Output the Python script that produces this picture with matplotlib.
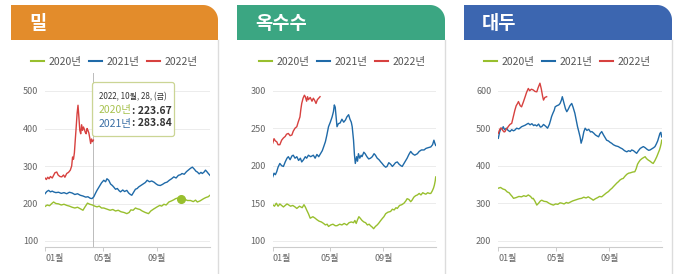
import matplotlib
matplotlib.use("Agg")
import matplotlib.pyplot as plt
import numpy as np
from matplotlib.patches import Polygon, FancyBboxPatch
from matplotlib.lines import Line2D
from matplotlib.legend import Legend

plt.rcParams['font.family'] = ['Noto Sans CJK KR', 'DejaVu Sans']

# ---------------- data (day of year, value) ----------------
titles = ["밀", "옥수수", "대두"]
years = ["2020년", "2021년", "2022년"]
month_labels = ["01월", "05월", "09월"]
month_days = [0, 128, 248]

wheat_2020_day = [0, 5, 10, 15, 19, 24, 30, 36, 42, 48, 54, 60, 66, 72, 78, 84, 88, 94, 99, 105, 110, 115, 120, 125, 130, 137, 144, 150, 156, 162, 168, 175, 181, 186, 190, 195, 200, 204, 210, 215, 222, 229, 234, 240, 244, 248, 254, 258, 263, 268, 274, 280, 285, 289, 295, 301, 308, 315, 322, 328, 333, 337, 343, 347, 351, 356, 361, 365]
wheat_2020_val = [192, 196, 194, 200, 204, 200, 199, 196, 198, 195, 193, 190, 188, 190, 186, 182, 190, 201, 198, 196, 193, 191, 193, 188, 188, 185, 182, 184, 180, 182, 178, 176, 173, 176, 183, 182, 188, 186, 184, 180, 176, 173, 180, 185, 188, 191, 195, 193, 198, 196, 204, 207, 210, 213, 215, 211, 212, 208, 208, 205, 209, 204, 207, 210, 213, 216, 218, 222]
wheat_2021_day = [0, 4, 8, 12, 16, 19, 24, 30, 36, 42, 48, 54, 60, 66, 72, 78, 84, 90, 95, 100, 104, 108, 112, 115, 120, 125, 130, 134, 137, 141, 145, 149, 152, 156, 160, 164, 167, 172, 176, 181, 185, 189, 192, 196, 200, 204, 207, 212, 217, 222, 226, 231, 236, 241, 246, 250, 255, 260, 265, 270, 275, 280, 285, 290, 295, 300, 303, 308, 313, 318, 322, 326, 330, 334, 337, 341, 345, 348, 352, 355, 358, 362, 365]
wheat_2021_val = [226, 232, 235, 231, 233, 231, 229, 230, 227, 229, 226, 230, 228, 224, 226, 222, 220, 217, 218, 214, 213, 218, 228, 235, 245, 255, 262, 258, 266, 262, 252, 248, 244, 238, 240, 234, 231, 236, 232, 235, 228, 224, 222, 230, 238, 240, 244, 248, 252, 256, 262, 258, 260, 257, 252, 249, 248, 251, 255, 257, 262, 266, 271, 268, 275, 277, 280, 278, 285, 290, 294, 297, 292, 286, 284, 279, 283, 280, 284, 289, 285, 279, 275]
wheat_2022_day = [0, 3, 6, 9, 12, 16, 19, 22, 26, 29, 33, 37, 41, 44, 48, 52, 56, 59, 61, 63, 65, 67, 69, 71, 73, 75, 77, 79, 81, 83, 85, 87, 89, 91, 93, 95, 97, 99, 101, 103, 105, 107]
wheat_2022_val = [268, 264, 270, 266, 272, 268, 275, 282, 284, 276, 272, 271, 276, 270, 280, 283, 289, 300, 324, 318, 335, 370, 404, 440, 462, 430, 395, 386, 410, 395, 404, 398, 390, 386, 400, 395, 388, 375, 360, 372, 365, 369]

corn_2020_day = [0, 4, 8, 12, 16, 20, 24, 28, 32, 35, 40, 45, 50, 54, 60, 66, 70, 73, 76, 80, 84, 90, 95, 99, 104, 109, 114, 118, 122, 125, 130, 135, 140, 144, 150, 155, 160, 166, 171, 176, 181, 184, 187, 190, 193, 196, 200, 204, 208, 212, 216, 219, 223, 226, 230, 234, 237, 242, 246, 249, 253, 258, 264, 268, 272, 276, 279, 284, 289, 294, 298, 301, 305, 309, 312, 316, 320, 324, 328, 332, 336, 339, 343, 347, 351, 354, 357, 360, 362, 364, 365]
corn_2020_val = [148, 146, 150, 146, 149, 147, 145, 147, 149, 148, 146, 147, 145, 143, 146, 144, 148, 145, 141, 136, 130, 132, 130, 128, 126, 125, 123, 121, 122, 119, 121, 122, 120, 120, 122, 121, 123, 121, 124, 125, 124, 127, 123, 128, 132, 130, 127, 125, 124, 121, 122, 120, 118, 116, 119, 121, 123, 127, 130, 132, 136, 138, 139, 142, 141, 144, 143, 147, 148, 150, 153, 156, 155, 152, 154, 158, 160, 161, 163, 161, 164, 163, 162, 164, 163, 163, 166, 170, 174, 180, 185]
corn_2021_day = [0, 3, 6, 9, 12, 16, 20, 24, 28, 32, 35, 39, 43, 46, 50, 54, 58, 62, 65, 69, 73, 76, 80, 85, 91, 95, 99, 103, 107, 111, 114, 118, 121, 125, 129, 133, 136, 138, 140, 142, 144, 147, 151, 155, 159, 163, 166, 170, 173, 176, 178, 180, 181, 183, 185, 188, 190, 192, 195, 198, 200, 204, 207, 211, 215, 219, 223, 227, 230, 234, 238, 242, 245, 249, 253, 256, 260, 264, 268, 271, 275, 279, 283, 287, 290, 294, 298, 301, 305, 309, 313, 318, 324, 328, 333, 339, 343, 348, 354, 358, 361, 363, 365]
corn_2021_val = [185, 190, 188, 192, 198, 203, 200, 199, 205, 210, 212, 208, 213, 214, 210, 212, 207, 210, 205, 208, 212, 210, 214, 212, 214, 210, 215, 212, 216, 220, 225, 232, 240, 252, 258, 265, 272, 281, 278, 265, 252, 256, 257, 262, 258, 261, 265, 268, 262, 258, 252, 240, 234, 215, 203, 212, 206, 216, 210, 214, 212, 218, 216, 212, 209, 210, 212, 216, 214, 210, 208, 205, 203, 200, 198, 199, 204, 202, 199, 201, 204, 205, 202, 200, 199, 203, 207, 210, 215, 219, 216, 214, 216, 219, 221, 221, 223, 224, 225, 228, 234, 230, 227]
corn_2022_day = [0, 3, 6, 9, 12, 16, 20, 24, 28, 31, 35, 39, 43, 46, 50, 54, 57, 61, 63, 65, 68, 71, 73, 76, 78, 80, 84, 88, 91, 94, 97, 100, 103, 106]
corn_2022_val = [230, 236, 233, 232, 228, 228, 234, 237, 239, 242, 243, 240, 241, 246, 250, 252, 258, 265, 275, 283, 290, 294, 292, 286, 292, 288, 291, 286, 290, 287, 283, 288, 290, 292]

soy_2020_day = [0, 5, 10, 15, 20, 24, 28, 31, 34, 40, 46, 52, 57, 62, 67, 72, 76, 78, 82, 86, 90, 94, 97, 102, 108, 113, 118, 123, 128, 133, 138, 142, 147, 152, 156, 161, 166, 171, 176, 181, 186, 191, 196, 201, 206, 210, 212, 217, 222, 226, 231, 236, 241, 246, 250, 254, 257, 261, 265, 268, 272, 276, 279, 283, 287, 291, 295, 300, 305, 308, 311, 314, 317, 321, 325, 328, 331, 335, 339, 343, 346, 350, 354, 357, 360, 362, 364, 365]
soy_2020_val = [340, 342, 338, 336, 330, 328, 322, 318, 313, 315, 318, 317, 320, 318, 322, 318, 312, 313, 305, 295, 300, 306, 308, 305, 304, 300, 297, 295, 298, 297, 301, 300, 298, 302, 300, 303, 306, 308, 310, 312, 313, 316, 314, 317, 313, 310, 308, 312, 315, 318, 317, 322, 327, 331, 336, 340, 344, 349, 354, 357, 362, 365, 366, 372, 377, 380, 381, 383, 384, 392, 404, 410, 415, 419, 422, 424, 419, 415, 412, 408, 406, 414, 424, 433, 442, 450, 460, 468]
soy_2021_day = [0, 3, 6, 9, 11, 14, 18, 22, 26, 30, 34, 37, 41, 46, 52, 56, 60, 64, 67, 71, 75, 79, 82, 86, 90, 94, 97, 101, 106, 110, 114, 117, 119, 122, 125, 127, 131, 135, 138, 141, 143, 146, 150, 153, 156, 160, 164, 167, 171, 174, 177, 180, 183, 185, 188, 191, 194, 198, 202, 206, 209, 213, 217, 221, 224, 227, 231, 235, 239, 242, 246, 250, 253, 257, 262, 268, 272, 277, 282, 287, 291, 295, 298, 302, 306, 309, 313, 317, 321, 324, 328, 332, 336, 339, 343, 347, 350, 353, 356, 359, 361, 363, 365]
soy_2021_val = [473, 490, 500, 498, 504, 496, 500, 494, 491, 496, 493, 495, 500, 498, 504, 506, 508, 511, 513, 509, 512, 507, 509, 506, 511, 503, 504, 510, 505, 500, 510, 522, 531, 540, 548, 557, 560, 562, 566, 575, 584, 570, 552, 544, 550, 560, 566, 556, 540, 522, 504, 490, 475, 460, 472, 490, 500, 494, 497, 490, 491, 487, 482, 479, 477, 485, 491, 482, 474, 468, 466, 462, 460, 456, 453, 451, 448, 445, 440, 437, 440, 438, 442, 440, 436, 433, 440, 446, 449, 451, 448, 444, 441, 442, 445, 448, 451, 458, 466, 478, 486, 489, 477]
soy_2022_day = [0, 3, 5, 7, 10, 13, 15, 18, 20, 22, 26, 30, 33, 37, 40, 43, 45, 49, 52, 56, 60, 63, 67, 70, 74, 78, 82, 86, 89, 93, 96, 99, 101, 104, 108]
soy_2022_val = [486, 496, 500, 500, 494, 490, 491, 498, 500, 504, 510, 513, 528, 548, 560, 566, 571, 560, 557, 570, 584, 595, 606, 600, 604, 602, 598, 597, 608, 620, 605, 585, 575, 582, 584]

wheat_ticks = [100, 200, 300, 400, 500]
corn_ticks = [100, 150, 200, 250, 300]
soy_ticks = [200, 300, 400, 500, 600]

tooltip_date = "2022, 10월, 28, (금)"
tooltip_2020 = "223.67"
tooltip_2021 = "283.84"
hover_day = 301       # green dot on wheat 2020
crosshair_day = 107

# ---------------- styling ----------------
W, H = 680, 274
fig = plt.figure(figsize=(W / 100, H / 100), dpi=100)
fig.patch.set_facecolor("white")

c20, c21, c22 = "#98bf2e", "#1f6aa8", "#d7413f"
header_colors = ["#e38c2b", "#3ba682", "#3c66b0"]

bg = fig.add_axes([0, 0, 1, 1], zorder=0)
bg.set_xlim(0, W); bg.set_ylim(H, 0); bg.axis("off")
fg = fig.add_axes([0, 0, 1, 1], zorder=10)
fg.set_xlim(0, W); fg.set_ylim(H, 0); fg.axis("off")
fg.patch.set_alpha(0)

panels = [
    dict(hx=(11, 218), ax_x=(45, 210), ticks=wheat_ticks, ref=(100, 241.0, 500, 91.0),
         legend_cx=114, data=((wheat_2020_day, wheat_2020_val), (wheat_2021_day, wheat_2021_val), (wheat_2022_day, wheat_2022_val))),
    dict(hx=(237, 445), ax_x=(272.7, 435.7), ticks=corn_ticks, ref=(100, 240.7, 300, 90.7),
         legend_cx=342, data=((corn_2020_day, corn_2020_val), (corn_2021_day, corn_2021_val), (corn_2022_day, corn_2022_val))),
    dict(hx=(464, 672), ax_x=(498.3, 661.7), ticks=soy_ticks, ref=(200, 240.7, 600, 90.7),
         legend_cx=567, data=((soy_2020_day, soy_2020_val), (soy_2021_day, soy_2021_val), (soy_2022_day, soy_2022_val))),
]

ytop_px, ybot_px = 79.5, 247.0
hy0, hy1, r = 5, 40, 15

axes = []
for i, p in enumerate(panels):
    x0, x1 = p["hx"]
    th = np.linspace(0, np.pi / 2, 20)
    arc = np.column_stack([x1 - r + r * np.cos(th), hy0 + r - r * np.sin(th)])
    pts = np.vstack([[x0, hy1], [x0, hy0], arc[::-1], [x1, hy1]])
    bg.add_patch(Polygon(pts, closed=True, facecolor=header_colors[i], edgecolor="none"))
    bg.text(x0 + 18, (hy0 + hy1) / 2 + 1, titles[i], color="white", fontsize=13.5,
            fontweight="bold", ha="left", va="center")
    bg.plot([x1 - 0.5, x1 - 0.5], [hy1, H], color="#dcdcdc", lw=1.0)

    ax0, ax1 = p["ax_x"]
    ax = fig.add_axes([ax0 / W, 1 - ybot_px / H, (ax1 - ax0) / W, (ybot_px - ytop_px) / H], zorder=5)
    ax.patch.set_alpha(0)
    vlo, ylo, vhi, yhi = p["ref"]
    scale = (ylo - yhi) / (vhi - vlo)
    ax.set_ylim(vlo - (ybot_px - ylo) / scale, vhi + (yhi - ytop_px) / scale)
    ax.set_xlim(0, 365)

    for (d, v), c in zip(p["data"], (c20, c21, c22)):
        ax.plot(d, v, color=c, lw=1.0, solid_joinstyle="round")

    ax.set_yticks(p["ticks"])
    ax.set_yticklabels([str(t) for t in p["ticks"]])
    ax.grid(axis="y", color="#ececec", lw=0.7)
    ax.set_axisbelow(True)
    ax.set_xticks(month_days)
    ax.set_xticklabels(month_labels)
    ax.get_xticklabels()[0].set_ha("left")
    ax.tick_params(axis="y", length=0, pad=5, labelsize=6.5, labelcolor="#666666")
    ax.tick_params(axis="x", length=3, width=0.7, color="#cccccc", pad=2, labelsize=6.5, labelcolor="#666666")
    for s in ("top", "left", "right"):
        ax.spines[s].set_visible(False)
    ax.spines["bottom"].set_color("#cccccc")
    ax.spines["bottom"].set_linewidth(0.8)

    handles = [Line2D([0], [0], color=c, lw=1.5) for c in (c20, c21, c22)]
    leg = Legend(bg, handles, years, loc="center", bbox_to_anchor=(p["legend_cx"] / W, 1 - 62 / H),
                 bbox_transform=fig.transFigure, ncol=3, frameon=False, fontsize=7.5,
                 handlelength=1.3, handletextpad=0.4, columnspacing=0.7, labelcolor="#555555")
    bg.add_artist(leg)
    axes.append(ax)

# ---------------- tooltip in panel 1 ----------------
ax = axes[0]
ax.axvline(crosshair_day, ymin=0, ymax=(ybot_px - 73) / (ybot_px - ytop_px), color="#bbbbbb",
           lw=0.7, clip_on=False, zorder=1)
hi = wheat_2020_day.index(hover_day)
ax.plot([wheat_2020_day[hi]], [wheat_2020_val[hi]], "o", color=c20, ms=5.5, zorder=6)

box = FancyBboxPatch((92.5, 82.5), 82, 54, boxstyle="round,pad=0,rounding_size=2.5",
                     facecolor="white", edgecolor="#c9d38f", lw=0.9, alpha=0.95)
fg.add_patch(box)
fg.text(99, 97, tooltip_date, fontsize=5.8, color="#333333", ha="left", va="center")
t1 = fg.text(99, 110.5, years[0], fontsize=7.5, color="#a7c24f", ha="left", va="center")
fg.annotate(": " + tooltip_2020, xy=(1, 0.5), xycoords=t1, fontsize=7.5, color="#333333",
            fontweight="bold", ha="left", va="center")
t2 = fg.text(99, 123.5, years[1], fontsize=7.5, color="#3b6fa5", ha="left", va="center")
fg.annotate(": " + tooltip_2021, xy=(1, 0.5), xycoords=t2, fontsize=7.5, color="#333333",
            fontweight="bold", ha="left", va="center")

fig.savefig("out.png", dpi=100, facecolor="white")
